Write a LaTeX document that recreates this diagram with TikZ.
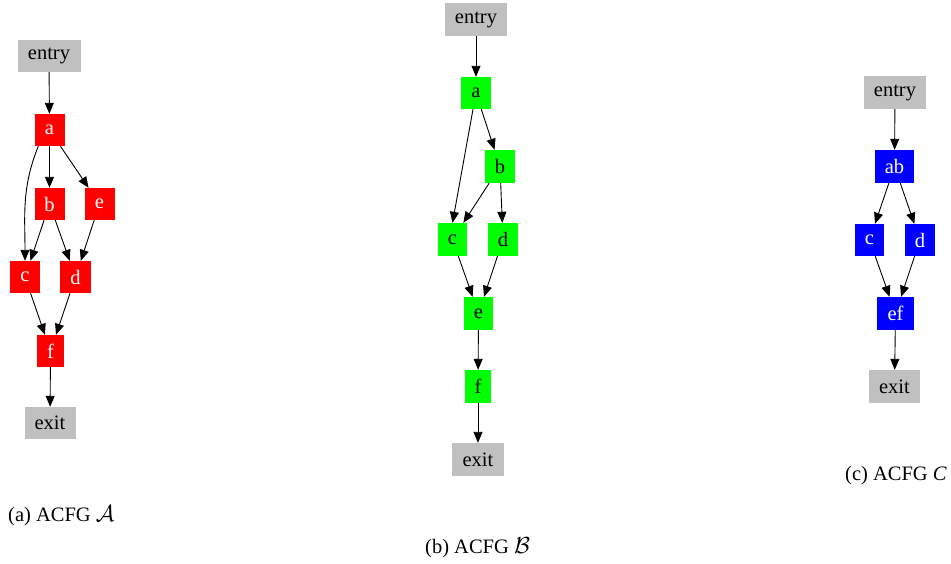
\documentclass[tikz,border=0pt]{standalone}
\usepackage{fontspec}
\usepackage{graphicx}
\setmainfont{Liberation Serif}
\usetikzlibrary{arrows.meta}
\newcommand{\calA}{\scalebox{1.12}{$\mathcal{A}$}}
\newcommand{\calB}{\scalebox{1.12}{$\mathcal{B}$}}
\begin{document}
\begin{tikzpicture}[x=1pt,y=-1pt,
  blk/.style={rectangle, inner sep=0pt, minimum height=32pt, minimum width=30pt,
              font=\fontsize{20.5}{23}\selectfont},
  term/.style={blk, fill={rgb,255:red,192;green,192;blue,192}, text=black},
  redb/.style={blk, fill={rgb,255:red,255;green,0;blue,0}, text=white},
  grnb/.style={blk, fill={rgb,255:red,0;green,255;blue,0}, text=black},
  blub/.style={blk, fill={rgb,255:red,0;green,0;blue,255}, text=white},
  conn/.style={draw=black, line width=0.9pt, -{Triangle[length=11pt,width=9pt]}},
  captxt/.style={font=\fontsize{20.5}{23}\selectfont, inner sep=0pt}]
\clip (0,0) rectangle (951,563);
\useasboundingbox (0,0) rectangle (951,563);

% ---- ACFG A ----
\node[term, minimum width=63pt] (Aentry) at (49,56) {entry};
\node[redb] (Aa) at (49.5,130) {a};
\node[redb] (Ab) at (49.5,204) {b};
\node[redb] (Ae) at (99.5,204) {e};
\node[redb] (Ac) at (25,277) {c};
\node[redb, minimum width=31pt] (Ad) at (75.5,277) {d};
\node[redb, minimum width=27pt] (Af) at (50.5,351) {f};
\node[term, minimum width=51pt] (Aexit) at (50,423) {exit};
\draw[conn] (Aentry) -- (Aa);
\draw[conn] (Aa) -- (Ab);
\draw[conn] (Aa) -- (Ae);
\draw[conn] (Aa.south west) ++(4,0) to[out=-112,in=90] (Ac.north);
\draw[conn] (Ab) -- (Ac);
\draw[conn] (Ab) -- (Ad);
\draw[conn] (Ae) -- (Ad);
\draw[conn] (Ac) -- (Af);
\draw[conn] (Ad) -- (Af);
\draw[conn] (Af) -- (Aexit);
\node[captxt, anchor=west] (Acap) at (8,516) {(a) ACFG \calA};

% ---- ACFG B ----
\node[term, minimum width=62pt, minimum height=33pt] (Bentry) at (476,19.5) {entry};
\node[grnb] (Ba) at (476,93) {a};
\node[grnb, minimum height=33pt] (Bb) at (500,166.5) {b};
\node[grnb, minimum width=29pt, minimum height=33pt] (Bc) at (452.5,239.5) {c};
\node[grnb, minimum height=33pt] (Bd) at (503,239.5) {d};
\node[grnb, minimum width=29pt, minimum height=33pt] (Be) at (478.5,313.5) {e};
\node[grnb, minimum width=26pt, minimum height=33pt] (Bf) at (478,386.5) {f};
\node[term, minimum width=52pt, minimum height=33pt] (Bexit) at (478,459.5) {exit};
\draw[conn] (Bentry) -- (Ba);
\draw[conn] (Ba) -- (Bb);
\draw[conn] (Ba.south) ++(-3,0) -- (Bc.north);
\draw[conn] (Bb) -- (Bc);
\draw[conn] (Bb) -- (Bd);
\draw[conn] (Bc) -- (Be);
\draw[conn] (Bd) -- (Be);
\draw[conn] (Be) -- (Bf);
\draw[conn] (Bf) -- (Bexit);
\node[captxt, anchor=west] (Bcap) at (425,548) {(b) ACFG \calB};

% ---- ACFG C ----
\node[term, minimum width=62pt, minimum height=33pt] (Centry) at (895,92.5) {entry};
\node[blub, minimum width=39pt, minimum height=33pt] (Cab) at (894.5,166.5) {ab};
\node[blub, minimum width=29pt] (Cc) at (869.5,240) {c};
\node[blub] (Cd) at (920,240) {d};
\node[blub, minimum width=37pt, minimum height=33pt] (Cef) at (895.5,313.5) {ef};
\node[term, minimum width=51pt, minimum height=33pt] (Cexit) at (894.5,386.5) {exit};
\draw[conn] (Centry) -- (Cab);
\draw[conn] (Cab) -- (Cc);
\draw[conn] (Cab) -- (Cd);
\draw[conn] (Cc) -- (Cef);
\draw[conn] (Cd) -- (Cef);
\draw[conn] (Cef) -- (Cexit);
\node[captxt, anchor=west] (Ccap) at (845,476) {(c) ACFG \textit{C}};
\end{tikzpicture}
\end{document}
